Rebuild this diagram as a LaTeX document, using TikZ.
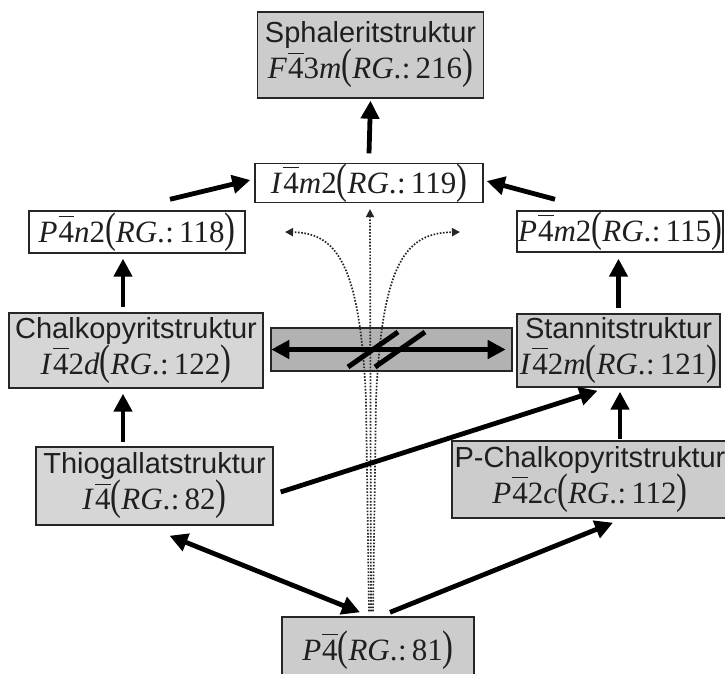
\documentclass[tikz,border=0pt]{standalone}
\usepackage{graphicx}
\usepackage{fontspec}
\setmainfont{Liberation Serif}
\newfontfamily\lsans{Liberation Sans}
\usetikzlibrary{arrows.meta,calc}

% space-group symbols: barred digit, tall parentheses, RG number
\newcommand\obar[1]{$\overline{\hbox{#1\rule{0pt}{0.8em}}}$}
\newcommand\lpar{\scalebox{1.05}[1.38]{(}}
\newcommand\rpar{\scalebox{1.05}[1.38]{)}}
\newcommand\rg[1]{\lpar\textit{RG}.\kern0.5pt:\,#1\rpar}
\newcommand\stname[1]{{\lsans\fontsize{29}{36}\selectfont #1}}

\definecolor{boxgray}{gray}{0.80}
\definecolor{boxlight}{gray}{0.84}
\definecolor{bargray}{gray}{0.70}

\tikzset{
  box/.style={draw=black!85, line width=1.4pt, fill=#1, text=black!88,
    align=center, inner sep=0pt, font=\fontsize{31}{36}\selectfont},
  box/.default=white,
  arr/.style={line width=4.8pt, draw=black, -{Triangle[length=18pt,width=18pt]}},
  darr/.style={line width=4.8pt, draw=black,
    {Triangle[length=18pt,width=18pt]}-{Triangle[length=18pt,width=18pt]}},
  slash/.style={line width=5pt, draw=black},
  dotline/.style={line width=1.7pt, draw=black!85, dash pattern=on 1.6pt off 1.6pt,
    -{Triangle[length=8pt,width=8pt]}}
}

\begin{document}
\begin{tikzpicture}[x=1pt,y=-1pt]
\useasboundingbox (0,0) rectangle (725,673);
\fill[white] (0,0) rectangle (725,673);

% structure boxes
\node[box=boxgray, minimum width=226pt, minimum height=86pt] (sph) at (370.5,55)
  {\stname{Sphaleritstruktur}\\ \textit{F}\kern1pt\obar{4}3\textit{m}\rg{216}};
\node[box, minimum width=228pt, minimum height=37pt] (i4m2) at (369,183)
  {\textit{I}\kern1pt\obar{4}\textit{m}2\rg{119}};
\node[box, minimum width=216pt, minimum height=42pt] (p4n2) at (137,232)
  {\textit{P}\kern1pt\obar{4}\textit{n}2\rg{118}};
\node[box, minimum width=206pt, minimum height=41pt] (p4m2) at (620,231.5)
  {\textit{P}\kern1pt\obar{4}\textit{m}2\rg{115}};
\node[box=boxlight, minimum width=254pt, minimum height=75pt] (chalk) at (136,350.5)
  {\stname{Chalkopyritstruktur}\\ \textit{I}\kern1pt\obar{4}2\textit{d}\rg{122}};
\node[box=bargray, minimum width=241pt, minimum height=43pt] (bar) at (391.5,349.5) {};
\node[box=boxgray, minimum width=203pt, minimum height=73pt] (stann) at (618.5,350.5)
  {\stname{Stannitstruktur}\\ \textit{I}\kern1pt\obar{4}2\textit{m}\rg{121}};
\node[box=boxlight, minimum width=237pt, minimum height=78pt] (thio) at (154.5,486)
  {\stname{Thiogallatstruktur}\\ \textit{I}\kern1pt\obar{4}\rg{82}};
\node[box=boxgray, minimum width=276pt, minimum height=77pt] (pchalk) at (590,479.5)
  {\stname{P-Chalkopyritstruktur}\\ \textit{P}\kern1pt\obar{4}2\textit{c}\rg{112}};
\node[box=boxgray, minimum width=192pt, minimum height=66pt] (p4) at (378,650)
  {\raisebox{4pt}{\textit{P}\kern1pt\obar{4}\rg{81}}};

% tips of the curved dotted arrows
\coordinate (dl) at (285,232);
\coordinate (dr) at (460,232);

% dotted paths rising from P-4
\draw[dotline] ([xshift=-9pt,yshift=5pt]p4.north) -- (366,400)
  .. controls (360,260) and (335,233) .. (dl);
\draw[dotline] ([xshift=-7pt,yshift=5pt]p4.north) -- ([xshift=1pt,yshift=-6pt]i4m2.south);
\draw[dotline] ([xshift=-5pt,yshift=5pt]p4.north) -- (376,400)
  .. controls (382,260) and (407,233) .. (dr);

% group-subgroup arrows
\draw[arr] ([yshift=9.5pt]i4m2.north) -- ([yshift=-2pt]sph.south);
\draw[arr] ([xshift=33pt,yshift=11pt]p4n2.north) -- ([xshift=-4pt,yshift=3pt]i4m2.west);
\draw[arr] ([xshift=-65pt,yshift=11pt]p4m2.north) -- ([xshift=3pt,yshift=2pt]i4m2.east);
\draw[arr] ([xshift=-13pt,yshift=5pt]chalk.north) -- ([xshift=-14pt,yshift=-5pt]p4n2.south);
\draw[arr] ([yshift=5pt]stann.north) -- ([xshift=-1.5pt,yshift=-6pt]p4m2.south);
\draw[arr] ([xshift=-31.5pt,yshift=4pt]thio.north) -- ([xshift=-13pt,yshift=-5pt]chalk.south);
\draw[arr] ([xshift=30pt,yshift=1pt]pchalk.north) -- ([xshift=1.5pt,yshift=-4pt]stann.south);
\draw[arr] ([xshift=7pt,yshift=-6pt]thio.east) -- ([xshift=-21pt,yshift=-3pt]stann.south);
\draw[darr] ([xshift=15pt,yshift=-10pt]thio.south) -- ([xshift=-18pt,yshift=4pt]p4.north);
\draw[arr] ([xshift=12pt,yshift=4pt]p4.north) -- ([xshift=23pt,yshift=-4pt]pchalk.south);

% no direct path between chalcopyrite and stannite
\draw[darr] ([xshift=1pt]bar.west) -- ([xshift=-7pt]bar.east);
\draw[slash] ($(bar.center)+(-43.5,17.5)$) -- ($(bar.center)+(6.5,-17.5)$);
\draw[slash] ($(bar.center)+(-16.5,17.5)$) -- ($(bar.center)+(33.5,-17.5)$);
\end{tikzpicture}
\end{document}
